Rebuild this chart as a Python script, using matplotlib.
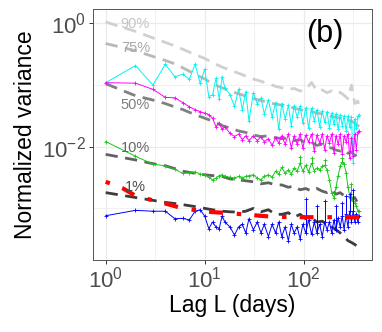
import matplotlib
matplotlib.use("Agg")
import matplotlib.pyplot as plt
import matplotlib.ticker as mticker

plt.rcParams['font.family'] = ['Liberation Sans', 'DejaVu Sans']
plt.rcParams['mathtext.fontset'] = 'custom'
plt.rcParams['mathtext.rm'] = 'Liberation Sans'
plt.rcParams['lines.scale_dashes'] = False

# lags for the measured series
lags = [1, 2, 3, 4, 5, 6, 7, 8, 9, 10, 11, 12, 13, 14, 15, 16, 18, 20, 22, 24, 26, 28,
        31, 34, 37, 40, 44, 48, 52, 56, 60, 65, 70, 75, 80, 86, 92, 98, 105, 112, 120,
        128, 136, 145, 154, 163, 172, 182, 192, 202, 212, 223, 234, 245, 256, 268, 280,
        292, 304, 316, 328, 340, 352, 364]

cyan_v = [0.109, 0.206, 0.100, 0.216, 0.136, 0.149, 0.125, 0.216, 0.107, 0.180, 0.065, 0.069,
          0.128, 0.060, 0.136, 0.090, 0.070, 0.045, 0.085, 0.040, 0.078, 0.026,
          0.075, 0.050, 0.062, 0.034, 0.058, 0.030, 0.052, 0.019, 0.050, 0.028, 0.047, 0.022,
          0.046, 0.030, 0.045, 0.024, 0.043, 0.020, 0.042, 0.026, 0.040, 0.021, 0.038, 0.025,
          0.037, 0.020, 0.035, 0.023, 0.034, 0.019, 0.033, 0.022, 0.032, 0.018, 0.031, 0.021,
          0.030, 0.0055, 0.028, 0.020, 0.031, 0.033]

magenta_v = [0.109, 0.107, 0.085, 0.063, 0.062, 0.052, 0.044, 0.040, 0.037, 0.035, 0.033, 0.029,
             0.021, 0.024, 0.019, 0.021, 0.0165, 0.0146, 0.016, 0.013, 0.015, 0.0125,
             0.015, 0.0125, 0.0145, 0.012, 0.0135, 0.0105, 0.014, 0.0115, 0.015, 0.011, 0.016,
             0.0095, 0.015, 0.011, 0.016, 0.0095, 0.0155, 0.012, 0.016, 0.0085, 0.0155, 0.0115,
             0.016, 0.009, 0.015, 0.0115, 0.016, 0.008, 0.015, 0.011, 0.016, 0.0075, 0.015,
             0.012, 0.016, 0.0065, 0.014, 0.007, 0.016, 0.009, 0.017, 0.018]

green_v = [0.0121, 0.0070, 0.0052, 0.0049, 0.0043, 0.0037, 0.0038, 0.0039, 0.0036, 0.0035, 0.0032,
           0.0029, 0.0031, 0.0034, 0.0035, 0.0033, 0.0032, 0.0031, 0.0033, 0.0031, 0.0033, 0.0034,
           0.0035, 0.0031, 0.0029, 0.0033, 0.0035, 0.0032, 0.0040, 0.0036, 0.0046, 0.0037, 0.0042,
           0.0036, 0.0045, 0.0040, 0.0054, 0.0040, 0.0050, 0.0039, 0.0054, 0.0041, 0.0045, 0.0042,
           0.0048, 0.0050, 0.0042, 0.0029, 0.0018, 0.0015, 0.0022, 0.0034, 0.0048, 0.0057, 0.0052,
           0.0038, 0.0022, 0.0016, 0.0015, 0.0013, 0.0012, 0.0011, 0.0009, 0.0009]

blue_v = [0.00076, 0.00093, 0.0009, 0.0009, 0.00068, 0.00069, 0.00065, 0.0009, 0.00095, 0.00075,
          0.00047, 0.0006, 0.0005, 0.00047, 0.00075, 0.0006, 0.0005, 0.00037, 0.0005, 0.00055,
          0.0004, 0.00068, 0.00045, 0.0006, 0.0004, 0.00055, 0.00035, 0.00055, 0.0004, 0.0006,
          0.00035, 0.0005, 0.0003, 0.00055, 0.0004, 0.0005, 0.00032, 0.00055, 0.0004, 0.00065,
          0.00038, 0.0006, 0.0004, 0.00055, 0.00035, 0.0006, 0.00045, 0.0006, 0.0004, 0.00065,
          0.00045, 0.0007, 0.0005, 0.00075, 0.00045, 0.0008, 0.0005, 0.0009, 0.0006, 0.0009,
          0.0006, 0.0008, 0.0006, 0.00075]

# upper whiskers seen on some points
green_bar_lag = [92, 120, 163, 245, 304]
green_bar_top = [0.0068, 0.0066, 0.0060, 0.0066, 0.0025]
blue_bar_lag = [105, 136, 163, 212, 245, 268, 292, 316]
blue_bar_top = [0.0014, 0.0011, 0.0013, 0.0011, 0.0012, 0.0016, 0.0017, 0.0020]

# quantile curves
lag_q = [1, 2, 3, 4, 5, 6, 8, 10, 12, 15, 18, 22, 26, 31, 37, 44, 52, 60, 70, 80, 92, 105,
         120, 136, 154, 172, 192, 212, 234, 256, 280, 304, 328, 352, 364]
q90 = [1.05, 0.74, 0.58, 0.49, 0.43, 0.38, 0.31, 0.27, 0.23, 0.195, 0.175, 0.155, 0.14, 0.125,
       0.115, 0.105, 0.095, 0.09, 0.085, 0.088, 0.08, 0.084, 0.11, 0.08, 0.083, 0.075, 0.08,
       0.072, 0.076, 0.068, 0.06, 0.10, 0.05, 0.055, 0.042]
q75 = [0.47, 0.36, 0.29, 0.25, 0.22, 0.19, 0.15, 0.125, 0.105, 0.09, 0.08, 0.072, 0.066, 0.06,
       0.056, 0.052, 0.049, 0.047, 0.045, 0.042, 0.04, 0.038, 0.037, 0.035, 0.034, 0.032, 0.031,
       0.03, 0.029, 0.028, 0.027, 0.026, 0.024, 0.022, 0.021]
q50 = [0.105, 0.067, 0.057, 0.05, 0.044, 0.04, 0.033, 0.029, 0.026, 0.022, 0.02, 0.018, 0.017,
       0.0155, 0.0146, 0.015, 0.014, 0.0135, 0.0138, 0.0125, 0.013, 0.0115, 0.0118, 0.0105,
       0.011, 0.0098, 0.0095, 0.0088, 0.0085, 0.009, 0.0078, 0.0082, 0.0072, 0.0075, 0.0068]
q10 = [0.0075, 0.0061, 0.0053, 0.0049, 0.0044, 0.004, 0.0037, 0.0035, 0.0034, 0.0033, 0.003,
       0.0029, 0.0028, 0.0027, 0.0025, 0.0026, 0.0024, 0.0024, 0.0022, 0.0023, 0.002, 0.0021,
       0.0019, 0.0021, 0.0019, 0.0018, 0.002, 0.0017, 0.0018, 0.0016, 0.0017, 0.0014, 0.0015,
       0.0012, 0.0012]
q01 = [0.0018, 0.0015, 0.00135, 0.00125, 0.0012, 0.00115, 0.00107, 0.001, 0.00095, 0.0009,
       0.00088, 0.00087, 0.0009, 0.001, 0.00088, 0.00095, 0.0008, 0.0008, 0.00085, 0.00072,
       0.0008, 0.00068, 0.0007, 0.0006, 0.00062, 0.00055, 0.0005, 0.00045, 0.0004, 0.00035,
       0.0003, 0.00028, 0.00026, 0.00024, 0.00022]
q_names = ['90%', '75%', '50%', '10%', '1%']
q_colors = ['#d0d0d0', '#b8b8b8', '#808080', '#626262', '#3c3c3c']
lab_colors = ['#c4c4c4', '#a8a8a8', '#7f7f7f', '#666666', '#4a4a4a']
lab_y = [0.97, 0.405, 0.047, 0.0095, 0.0022]

# red reference curve
lag_r = [1, 1.5, 2, 3, 4, 6, 8, 12, 17, 25, 36, 50, 100, 200, 365]
red_v = [0.0027, 0.0021, 0.0016, 0.00135, 0.0012, 0.001, 0.00094, 0.00087, 0.00084, 0.0008,
         0.00076, 0.00073, 0.00072, 0.00072, 0.00072]

fig = plt.figure(figsize=(3.82, 3.32), dpi=100)
ax = fig.add_axes([0.2435, 0.217, 0.7303, 0.755])
ax.set_axisbelow(True)

for vals, col in zip([q90, q75, q50, q10, q01], q_colors):
    ax.plot(lag_q, vals, color=col, lw=2.0, dashes=(8.8, 5.4), dash_capstyle='butt', zorder=2)

series = [(cyan_v, '#00f5f5'), (magenta_v, '#ff00ff'), (green_v, '#19c819'), (blue_v, '#0000ff')]
for vals, col in series:
    ax.plot(lags, vals, color=col, lw=0.7, marker='+', ms=3, mew=0.6, zorder=3)

ax.vlines(green_bar_lag, [green_v[lags.index(l)] for l in green_bar_lag], green_bar_top,
          color='#19c819', lw=0.7, zorder=3)
ax.plot(green_bar_lag, green_bar_top, ls='none', marker='+', ms=3, mew=0.6, color='#19c819', zorder=3)
ax.vlines(blue_bar_lag, [blue_v[lags.index(l)] for l in blue_bar_lag], blue_bar_top,
          color='#0000ff', lw=0.7, zorder=3)
ax.plot(blue_bar_lag, blue_bar_top, ls='none', marker='+', ms=3, mew=0.6, color='#0000ff', zorder=3)

ax.plot(lag_r, red_v, color='#ff0000', lw=3.0, dashes=(3.2, 9.5, 10, 10),
        dash_capstyle='butt', zorder=4)

# quantile labels
for name, yv, col in zip(q_names, lab_y, lab_colors):
    ax.text(2.0, yv, name, color=col, fontsize=10.5, ha='center', va='center', zorder=5)

ax.text(165, 0.66, '(b)', fontsize=22, ha='center', va='center')

ax.set_xscale('log')
ax.set_yscale('log')
ax.set_xlim(10 ** -0.128, 10 ** 2.69)
ax.set_ylim(10 ** -3.836, 10 ** 0.227)

ax.xaxis.set_major_locator(mticker.FixedLocator([1, 10, 100]))
ax.xaxis.set_minor_locator(mticker.FixedLocator([10 ** 0.5, 10 ** 1.5, 10 ** 2.5]))
ax.yaxis.set_major_locator(mticker.FixedLocator([1e-2, 1e0]))
ax.yaxis.set_minor_locator(mticker.FixedLocator([1e-3, 1e-1]))
ax.xaxis.set_major_formatter(mticker.LogFormatterMathtext())
ax.yaxis.set_major_formatter(mticker.LogFormatterMathtext())
ax.xaxis.set_minor_formatter(mticker.NullFormatter())
ax.yaxis.set_minor_formatter(mticker.NullFormatter())

ax.grid(True, which='major', color='#ebebeb', lw=0.9)
ax.grid(True, which='minor', color='#ebebeb', lw=0.5)
ax.tick_params(which='major', length=3, width=0.7, color='#333333', labelsize=16,
               labelcolor='#4d4d4d', pad=2)
ax.tick_params(which='minor', length=0)
for s in ax.spines.values():
    s.set_color('#555555')
    s.set_linewidth(0.7)

ax.set_xlabel('Lag L (days)', fontsize=16.5, labelpad=1)
ax.set_ylabel('Normalized variance', fontsize=16.5, labelpad=4)

fig.savefig('out.png', dpi=100)
